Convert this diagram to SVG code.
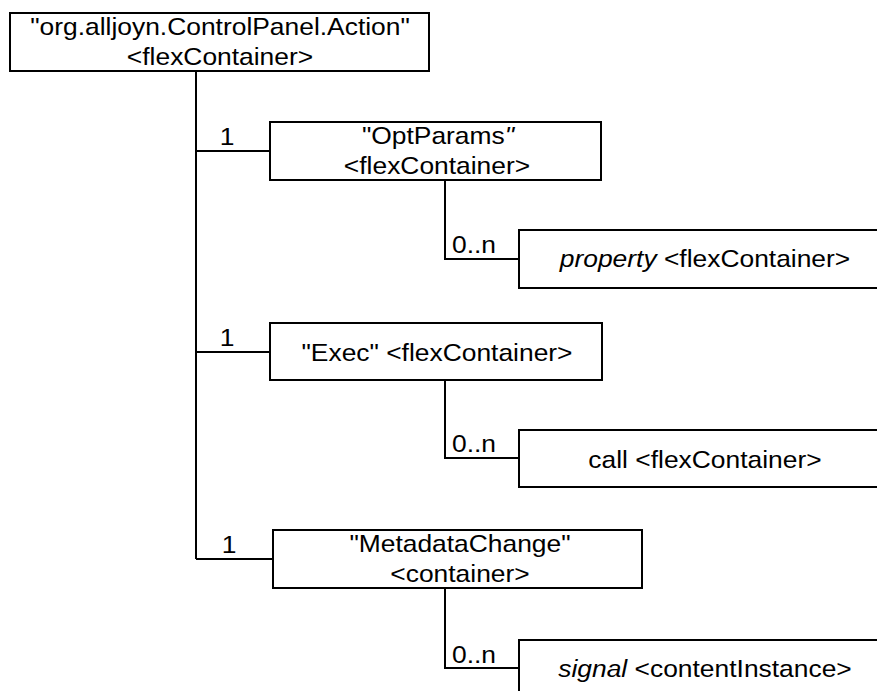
<svg xmlns="http://www.w3.org/2000/svg" width="877" height="691" viewBox="0 0 877 691">
<style>
.box{fill:#fff;stroke:#000;stroke-width:2}
.con{fill:none;stroke:#000;stroke-width:2}
text{font-family:"Liberation Sans",Arial,sans-serif;font-size:24px;fill:#000}
.c{text-anchor:middle}
.i{font-style:italic}
</style>
<rect width="877" height="691" fill="#fff"/>
<g id="connectors">
<path class="con" d="M196,71 V559 M196,151 H270 M196,352 H270 M196,559 H273"/>
<path class="con" d="M445,180 V259 H519"/>
<path class="con" d="M445,380 V458 H519"/>
<path class="con" d="M445,588 V668 H519"/>
<text class="c" transform="translate(227,145) scale(1.1,1)">1</text>
<text class="c" transform="translate(227,346) scale(1.1,1)">1</text>
<text class="c" transform="translate(229,553) scale(1.1,1)">1</text>
<text transform="translate(452,253) scale(1.1,1)">0..n</text>
<text transform="translate(452,452) scale(1.1,1)">0..n</text>
<text transform="translate(452,663) scale(1.1,1)">0..n</text>
</g>
<g id="action">
<rect class="box" x="10" y="13" width="419" height="58"/>
<text class="c" transform="translate(220,35) scale(1.1,1)">"org.alljoyn.ControlPanel.Action"</text>
<text class="c" transform="translate(220,65) scale(1.1,1)">&lt;flexContainer&gt;</text>
</g>
<g id="optparams">
<rect class="box" x="270" y="122" width="331" height="58"/>
<text class="c" transform="translate(438,144) scale(1.1,1)">"OptParams<tspan class="i">"</tspan></text>
<text class="c" transform="translate(437,174) scale(1.1,1)">&lt;flexContainer&gt;</text>
</g>
<g id="property">
<rect class="box" x="519" y="230" width="400" height="58"/>
<text class="c" transform="translate(705,267) scale(1.1,1)"><tspan class="i">property</tspan> &lt;flexContainer&gt;</text>
</g>
<g id="exec">
<rect class="box" x="270" y="323" width="332" height="57"/>
<text class="c" transform="translate(437,361) scale(1.1,1)">"Exec" &lt;flexContainer&gt;</text>
</g>
<g id="call">
<rect class="box" x="519" y="430" width="400" height="57"/>
<text class="c" transform="translate(705,468) scale(1.1,1)">call &lt;flexContainer&gt;</text>
</g>
<g id="metadatachange">
<rect class="box" x="273" y="530" width="369" height="58"/>
<text class="c" transform="translate(460,552) scale(1.1,1)">"MetadataChange"</text>
<text class="c" transform="translate(460,582) scale(1.1,1)">&lt;container&gt;</text>
</g>
<g id="signal">
<rect class="box" x="519" y="640" width="400" height="80"/>
<text class="c" transform="translate(705,677) scale(1.1,1)"><tspan class="i">signal</tspan> &lt;contentInstance&gt;</text>
</g>
</svg>
